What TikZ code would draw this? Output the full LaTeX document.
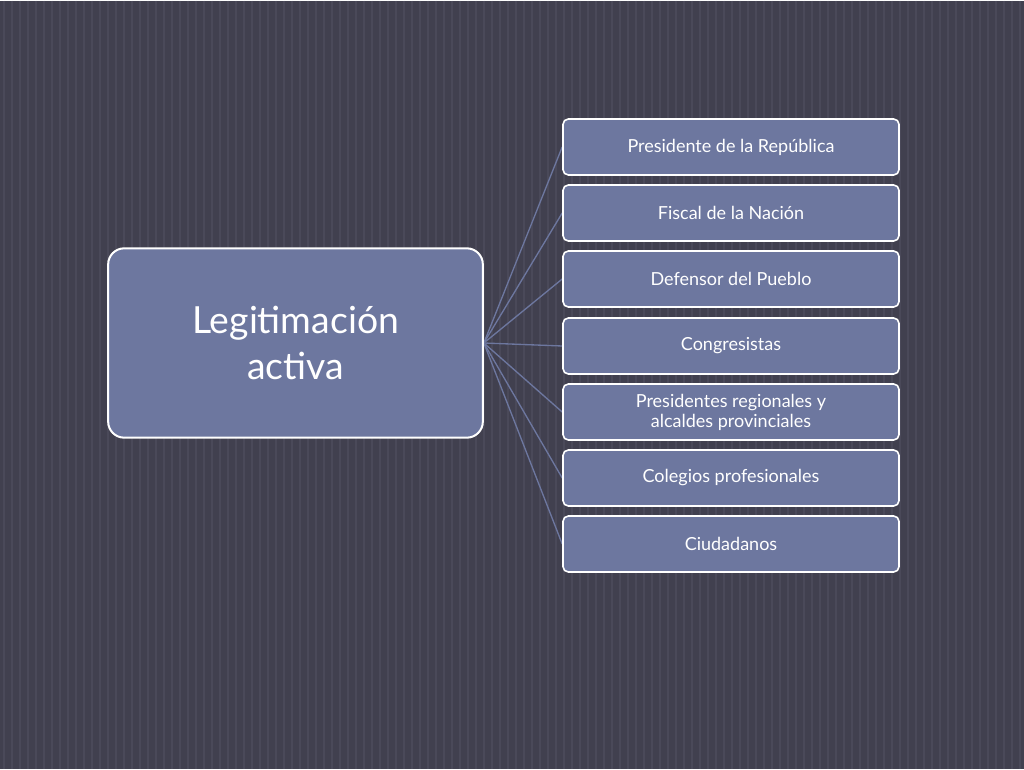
\documentclass[tikz,border=0pt]{standalone}
\usepackage{fontspec}
\setmainfont{Lato}
\usetikzlibrary{positioning}
\pgfdeclarelayer{backlayer}
\pgfdeclarelayer{edgelayer}
\pgfdeclarelayer{nodelayer}
\pgfsetlayers{backlayer,edgelayer,nodelayer,main}
\definecolor{slate}{HTML}{41404F}
\definecolor{stripe}{HTML}{4A4959}
\definecolor{boxfill}{HTML}{6D779F}
\tikzstyle{root}=[rectangle,rounded corners=12pt,fill=boxfill,draw=white,line width=1.5pt,text=white,minimum width=281pt,minimum height=142pt,align=center,font=\fontsize{28}{34}\selectfont]
\tikzstyle{leaf}=[rectangle,rounded corners=4pt,fill=boxfill,draw=white,line width=1.2pt,text=white,minimum width=252pt,minimum height=42pt,align=center,font=\fontsize{13.5}{15}\selectfont]
\tikzstyle{link}=[draw=boxfill,line width=1pt]

\begin{document}
\begin{tikzpicture}[x=0.75pt,y=-0.75pt]
	\begin{pgfonlayer}{backlayer}
		\fill [slate] (0,0) rectangle (1024,768);
		\foreach \x in {4,12,...,1024}
			\draw [stripe,line width=1.5pt] (\x,0) -- (\x,768);
	\end{pgfonlayer}
	\useasboundingbox (0,0) rectangle (1024,768);
	\begin{pgfonlayer}{nodelayer}
		\node [style=root] (0) at (295.5, 342) {Legitimación\\activa};
		\node [style=leaf] (1) at (731, 146) {Presidente de la República};
		\node [style=leaf] (2) at (731, 212) {Fiscal de la Nación};
		\node [style=leaf] (3) at (731, 278) {Defensor del Pueblo};
		\node [style=leaf] (4) at (731, 345) {Congresistas};
		\node [style=leaf] (5) at (731, 411) {Presidentes regionales y\\alcaldes provinciales};
		\node [style=leaf] (6) at (731, 477) {Colegios profesionales};
		\node [style=leaf] (7) at (731, 543) {Ciudadanos};
	\end{pgfonlayer}
	\begin{pgfonlayer}{edgelayer}
		\foreach \n in {1,...,7}
			\draw [style=link] (0.east) -- (\n.west);
	\end{pgfonlayer}
\end{tikzpicture}
\end{document}
